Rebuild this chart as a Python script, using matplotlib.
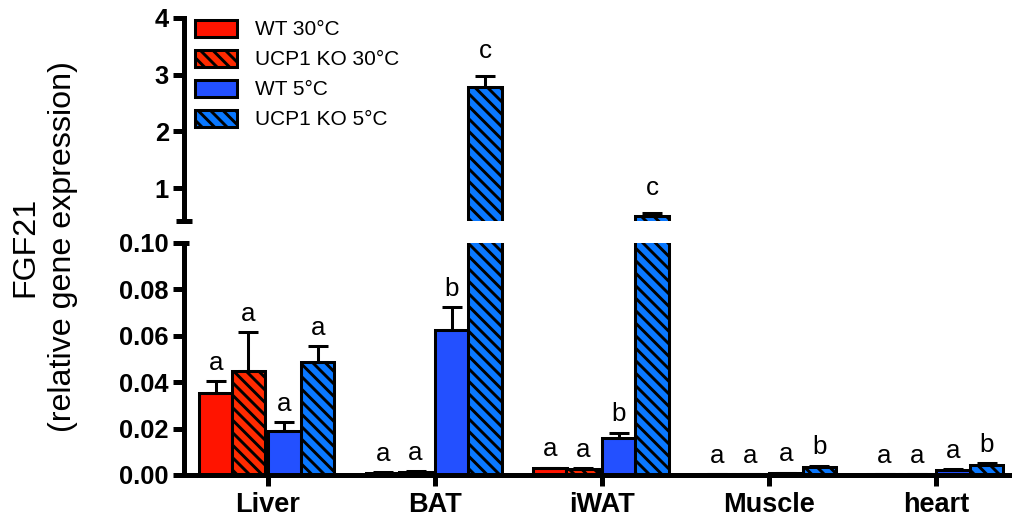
import numpy as np
import matplotlib.pyplot as plt

tissues = ['Liver', 'BAT', 'iWAT', 'Muscle', 'heart']
groups = ['WT 30°C', 'UCP1 KO 30°C', 'WT 5°C', 'UCP1 KO 5°C']

# mean and (upper) error per tissue
wt30 = [0.0353, 0.0010, 0.0028, 0.0003, 0.0003]
wt30_err = [0.0052, 0.0003, 0.0003, 0.0001, 0.0001]
ko30 = [0.0448, 0.0013, 0.0025, 0.0003, 0.0003]
ko30_err = [0.0168, 0.0004, 0.0004, 0.0001, 0.0001]
wt5 = [0.0190, 0.0625, 0.0160, 0.0008, 0.0022]
wt5_err = [0.0038, 0.0099, 0.0022, 0.0002, 0.0003]
ko5 = [0.0487, 2.78, 0.506, 0.0035, 0.0045]
ko5_err = [0.0069, 0.20, 0.054, 0.0005, 0.0006]

# significance letters
wt30_sig = ['a', 'a', 'a', 'a', 'a']
ko30_sig = ['a', 'a', 'a', 'a', 'a']
wt5_sig = ['a', 'b', 'b', 'a', 'a']
ko5_sig = ['a', 'c', 'c', 'b', 'b']

plt.rcParams['font.family'] = ['Liberation Sans', 'DejaVu Sans']
plt.rcParams['hatch.linewidth'] = 2.8

DPI = 75
fig = plt.figure(figsize=(1012 / DPI, 521 / DPI), dpi=DPI)
ax_top = fig.add_axes([0.1818, 0.5758, 0.8162, 0.3897])
ax_bot = fig.add_axes([0.1818, 0.0883, 0.8162, 0.4453])

x = np.arange(len(tissues))
offsets = [-0.31, -0.115, 0.1, 0.3]
width = 0.2
colors = ['#ff1400', '#ff2a00', '#2350ff', '#0a78ff']
hatches = ['', '\\\\', '', '\\\\']
series = [
    (wt30, wt30_err, wt30_sig),
    (ko30, ko30_err, ko30_sig),
    (wt5, wt5_err, wt5_sig),
    (ko5, ko5_err, ko5_sig),
]

for ax in (ax_top, ax_bot):
    for i, (vals, errs, sig) in enumerate(series):
        pos = x + offsets[i]
        ax.bar(pos, vals, width, color=colors[i], edgecolor='black',
               linewidth=2.9, hatch=hatches[i],
               label=groups[i] if ax is ax_top else None)
        ax.errorbar(pos, vals, yerr=[np.zeros(len(vals)), errs], fmt='none',
                    ecolor='black', elinewidth=2.9, capsize=9.5, capthick=2.9)

# letters above the error bars
for i, (vals, errs, sig) in enumerate(series):
    for j in range(len(tissues)):
        top = vals[j] + errs[j]
        if top > 0.1:
            ax, off = ax_top, 17
        else:
            ax, off = ax_bot, 11
        ax.annotate(sig[j], (x[j] + offsets[i], top), xytext=(0, off),
                    textcoords='offset points', ha='center', va='baseline',
                    fontsize=25)

for ax in (ax_top, ax_bot):
    ax.set_xlim(-0.5, 4.44)
    ax.spines['top'].set_visible(False)
    ax.spines['right'].set_visible(False)
    ax.spines['left'].set_linewidth(4.8)
    ax.spines['bottom'].set_linewidth(4.8)
    ax.tick_params(direction='out', length=10.5, width=4.8)

# upper panel
ax_top.set_ylim(0.42, 4)
ax_top.spines['bottom'].set_visible(False)
ax_top.set_yticks([1, 2, 3, 4], labels=['1', '2', '3', '4'],
                  fontsize=24.5, fontweight='bold')
ax_top.tick_params(axis='y', pad=4)
ax_top.tick_params(axis='x', bottom=False, labelbottom=False)
ax_top.plot([-0.01, 0.01], [0.42, 0.42], transform=ax_top.get_yaxis_transform(),
            color='black', lw=4.8, clip_on=False, solid_capstyle='butt')

# lower panel
ax_bot.set_ylim(0, 0.1)
yt = [0.0, 0.02, 0.04, 0.06, 0.08, 0.10]
ax_bot.set_yticks(yt, labels=['%.2f' % v for v in yt],
                  fontsize=24.5, fontweight='bold')
ax_bot.tick_params(axis='y', pad=4)
ax_bot.set_xticks(x, labels=tissues, fontsize=26, fontweight='bold')
ax_bot.tick_params(axis='x', pad=6)
ax_bot.plot([0, 0.006], [0.1, 0.1], transform=ax_bot.get_yaxis_transform(),
            color='black', lw=4.8, clip_on=False, solid_capstyle='butt')

ax_top.legend(loc='upper left', bbox_to_anchor=(0.1927, 0.962),
              bbox_transform=fig.transFigure, frameon=False, fontsize=20,
              handlelength=2.0, handleheight=0.86, labelspacing=0.5,
              handletextpad=0.9, borderpad=0, borderaxespad=0)

fig.text(0.0435, 0.526, 'FGF21\n(relative gene expression)', rotation=90,
         ha='center', va='center', fontsize=31, linespacing=1.35,
         multialignment='center')

fig.savefig('out.png', dpi=DPI)
